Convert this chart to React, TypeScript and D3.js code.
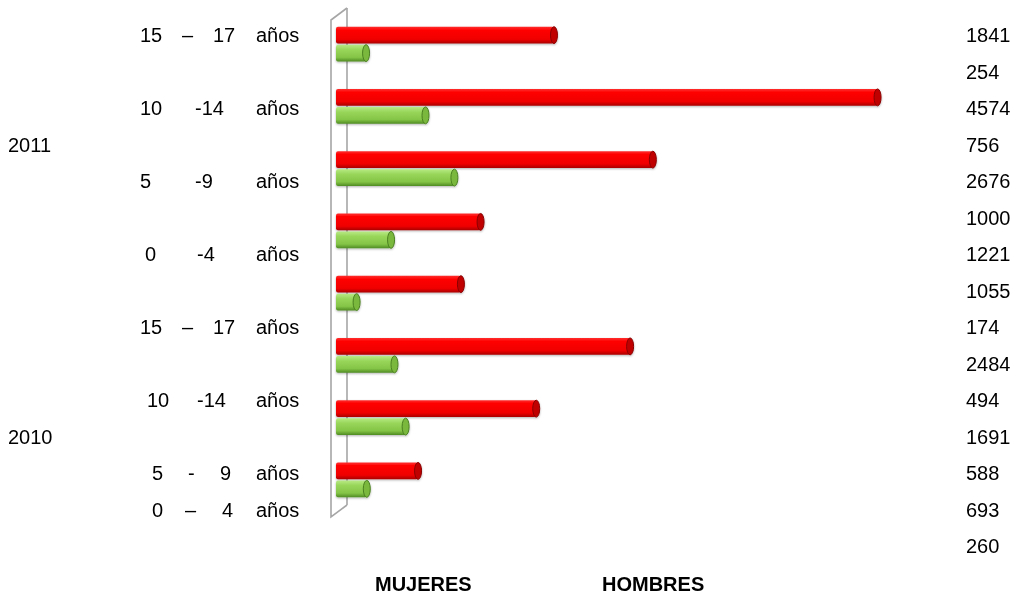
import React, { useRef, useEffect } from "react";
import * as d3 from "d3";

// groups top to bottom
const groups = [
  "2011 15-17",
  "2011 10-14",
  "2011 5-9",
  "2011 0-4",
  "2010 15-17",
  "2010 10-14",
  "2010 5-9",
  "2010 0-4",
];
const mujeres = [1841, 4574, 2676, 1221, 1055, 2484, 1691, 693];
const hombres = [254, 756, 1000, 465, 174, 494, 588, 260];

// left side text, as it sits in the original (split in pieces)
const ageLabels = [
  ["15", "–", "17", "años"],
  ["10", "-14", "años"],
  ["5", "-9", "años"],
  ["0", "-4", "años"],
  ["15", "–", "17", "años"],
  ["10", "-14", "años"],
  ["5", "-", "9", "años"],
  ["0", "–", "4", "años"],
];
const years = ["2011", "2010"];

// right column of numbers
const valueLabels = [
  "1841", "254", "4574", "756", "2676", "1000", "1221", "1055",
  "174", "2484", "494", "1691", "588", "693", "260",
];
const seriesNames = ["MUJERES", "HOMBRES"];

// text layout: rows on a half-step grid, piece offsets in px
const ageLabelSlots = [0, 2, 4, 6, 8, 10, 12, 13];
const yearSlots = [3, 11];
const agePartX = [
  [140, 182, 213, 256],
  [140, 195, 256],
  [140, 195, 256],
  [145, 197, 256],
  [140, 182, 213, 256],
  [147, 197, 256],
  [152, 188, 220, 256],
  [152, 185, 222, 256],
];

const W = 1018;
const H = 595;
const FONT = "'Liberation Sans', Arial, sans-serif";

const App = () => {
  const svgRef = useRef<SVGSVGElement>(null);

  useEffect(() => {
    const svg = d3.select(svgRef.current);
    svg.selectAll("*").remove();

    const x = d3.scaleLinear().domain([0, 5000]).range([336, 928]);
    const y = d3
      .scaleBand()
      .domain(groups)
      .range([13, 511])
      .paddingInner(0.44)
      .paddingOuter(0.22);
    const sub = d3
      .scaleBand()
      .domain(["m", "h"])
      .range([0, y.bandwidth()])
      .paddingInner(0.06);
    const slot = d3.scaleLinear().domain([0, 14]).range([35, 546]);

    const defs = svg.append("defs");
    const grad = (id: string, stops: [number, string][]) => {
      const g = defs
        .append("linearGradient")
        .attr("id", id)
        .attr("x1", 0)
        .attr("y1", 0)
        .attr("x2", 0)
        .attr("y2", 1);
      stops.forEach(([o, c]) => g.append("stop").attr("offset", o).attr("stop-color", c));
    };
    grad("gRed", [
      [0, "#ff3030"],
      [0.2, "#ff0000"],
      [0.75, "#f00000"],
      [1, "#a80000"],
    ]);
    grad("gGreen", [
      [0, "#b8ea85"],
      [0.3, "#98d65a"],
      [0.75, "#84c446"],
      [1, "#4e8a22"],
    ]);
    const f = defs
      .append("filter")
      .attr("id", "shadow")
      .attr("x", "-5%")
      .attr("y", "-40%")
      .attr("width", "110%")
      .attr("height", "180%");
    f.append("feDropShadow")
      .attr("dx", 0)
      .attr("dy", 1)
      .attr("stdDeviation", 1.2)
      .attr("flood-color", "#000")
      .attr("flood-opacity", 0.3);

    // side wall of the 3d plot
    const x0 = x(0);
    const [yTop, yBot] = y.range();
    const wall = d3.path();
    wall.moveTo(x0 + 11, yTop - 5);
    wall.lineTo(x0 + 11, yBot - 6);
    svg
      .append("path")
      .attr("d", wall.toString())
      .attr("fill", "none")
      .attr("stroke", "#a6a6a6")
      .attr("stroke-width", 1.6);
    const front = d3.path();
    front.moveTo(x0 + 11, yTop - 5);
    front.lineTo(x0 - 5, yTop + 7);
    front.lineTo(x0 - 5, yBot + 6);
    front.lineTo(x0 + 11, yBot - 6);
    svg
      .append("path")
      .attr("d", front.toString())
      .attr("fill", "none")
      .attr("stroke", "#a6a6a6")
      .attr("stroke-width", 1.6);

    // bars
    const series = [
      { key: "m", values: mujeres, fill: "url(#gRed)", cap: "#c00000", edge: "#8a0000" },
      { key: "h", values: hombres, fill: "url(#gGreen)", cap: "#7ab83e", edge: "#4a8020" },
    ];
    series.forEach((s) => {
      const g = svg.append("g").attr("filter", "url(#shadow)");
      const bar = g
        .selectAll("g")
        .data(s.values)
        .join("g")
        .attr("transform", (_, i) => `translate(0,${(y(groups[i]) ?? 0) + (sub(s.key) ?? 0)})`);
      const h = sub.bandwidth();
      bar
        .append("rect")
        .attr("x", x0)
        .attr("y", 0)
        .attr("width", (d) => x(d) - x0)
        .attr("height", h)
        .attr("rx", 2)
        .attr("fill", s.fill);
      bar
        .append("ellipse")
        .attr("cx", (d) => x(d))
        .attr("cy", h / 2)
        .attr("rx", 3.5)
        .attr("ry", h / 2)
        .attr("fill", s.cap)
        .attr("stroke", s.edge)
        .attr("stroke-width", 1);
    });

    const text = svg
      .append("g")
      .attr("font-family", FONT)
      .attr("font-size", 20)
      .attr("fill", "#000");

    // age labels
    ageLabels.forEach((parts, i) => {
      parts.forEach((p, j) => {
        text
          .append("text")
          .attr("x", agePartX[i][j])
          .attr("y", slot(ageLabelSlots[i]))
          .attr("dy", "0.35em")
          .text(p);
      });
    });

    // years
    years.forEach((yr, i) => {
      text
        .append("text")
        .attr("x", 8)
        .attr("y", slot(yearSlots[i]))
        .attr("dy", "0.35em")
        .text(yr);
    });

    // right number column
    valueLabels.forEach((v, i) => {
      text
        .append("text")
        .attr("x", 966)
        .attr("y", slot(i))
        .attr("dy", "0.35em")
        .text(v);
    });

    // series names
    seriesNames.forEach((n, i) => {
      text
        .append("text")
        .attr("x", i === 0 ? 375 : 602)
        .attr("y", 591)
        .attr("font-weight", "bold")
        .text(n);
    });
  }, []);

  return (
    <svg
      ref={svgRef}
      width={W}
      height={H}
      style={{ position: "absolute", left: 0, top: 0, background: "#fff" }}
    />
  );
};

export default App;
